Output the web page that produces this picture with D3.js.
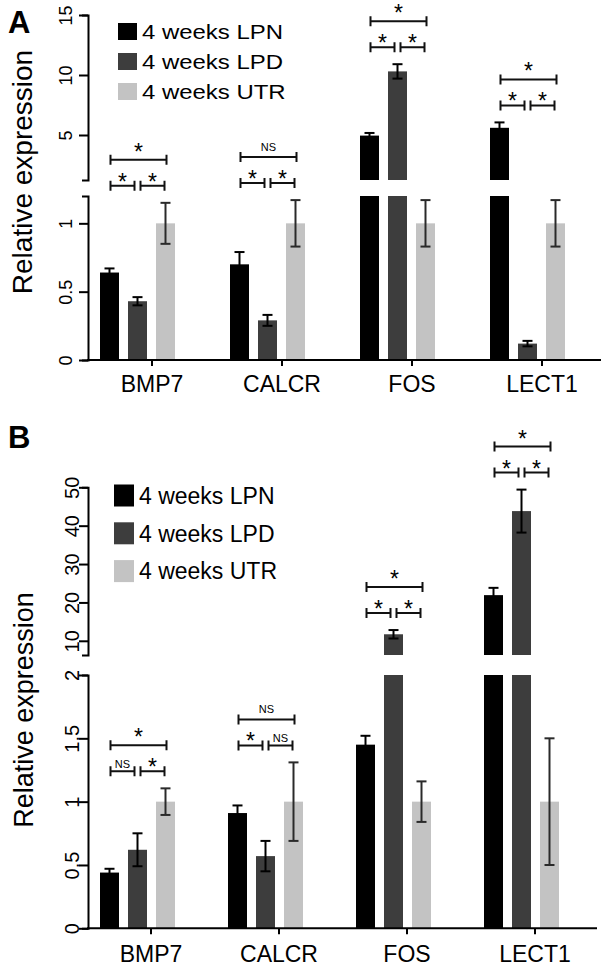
<!DOCTYPE html>
<html>
<head>
<meta charset="utf-8">
<script src="https://cdn.jsdelivr.net/npm/d3@7"></script>
<style>
  body { margin: 0; background: #fff; }
  svg  { display: block; font-family: Arial, "Liberation Sans", Helvetica, sans-serif; }
</style>
</head>
<body>
<svg id="chart" width="602" height="969"></svg>
<script>
// ── Data ────────────────────────────────────────────────────────────
const GENES  = ["BMP7", "CALCR", "FOS", "LECT1"];
const SERIES = ["4 weeks LPN", "4 weeks LPD", "4 weeks UTR"];

// Panel A
const A_LPN     = [0.64, 0.70, 4.95, 5.60];
const A_LPD     = [0.43, 0.29, 10.3, 0.12];
const A_UTR     = [1, 1, 1, 1];
const A_LPN_ERR = [0.03, 0.09, 0.22, 0.45];
const A_LPD_ERR = [0.03, 0.04, 0.60, 0.02];
const A_UTR_ERR = [0.15, 0.17, 0.17, 0.17];
// significance: [LPN vs LPD, LPD vs UTR, LPN vs UTR]
const A_SIG = [["*", "*", "*"], ["*", "*", "NS"], ["*", "*", "*"], ["*", "*", "*"]];
const A_LOW_TICKS = [0, 0.5, 1];
const A_UP_TICKS  = [5, 10, 15];

// Panel B
const B_LPN     = [0.44, 0.91, 1.45, 21.9];
const B_LPD     = [0.62, 0.57, 11.7, 43.8];
const B_UTR     = [1, 1, 1, 1];
const B_LPN_ERR = [0.03, 0.06, 0.07, 1.9];
const B_LPD_ERR = [0.13, 0.12, 1.1, 5.6];
const B_UTR_ERR = [0.105, 0.31, 0.16, 0.5];
const B_SIG = [["NS", "*", "*"], ["*", "NS", "NS"], ["*", "*", "*"], ["*", "*", "*"]];
const B_LOW_TICKS = [0, 0.5, 1, 1.5, 2];
const B_UP_TICKS  = [10, 20, 30, 40, 50];

// ── Styles ──────────────────────────────────────────────────────────
const BAR_COLORS = ["#000000", "#3d3d3d", "#c3c3c3"];
const ERR_COLORS = ["#000000", "#000000", "#2a2a2a"];

const LAYOUT_A = {
  x0: 100, step: 130, axisX: 88, axisEnd: 601,
  base: 360, lowTop: 196, lowMax: 1.2,
  upBottom: 180, upTop: 15, upDomain: [1.25, 15],
  lowTicks: A_LOW_TICKS, upTicks: A_UP_TICKS,
  tickFont: 18, tickLabelX: -16,
  xLabelY: 392, xLabelFont: 23,
  titleX: 32, titleY: 172, titleFont: 28,
  letter: "A", letterX: 8, letterY: 33,
  legX: 118, legY: 23, legW: 19, legH: 17, legStep: 30, legFont: 21, legScaleX: 1.14
};

const LAYOUT_B = {
  x0: 100, step: 128, axisX: 88, axisEnd: 597,
  base: 928.3, lowTop: 675, lowMax: 2,
  upBottom: 655, upTop: 487.3, upDomain: [6.3, 50],
  lowTicks: B_LOW_TICKS, upTicks: B_UP_TICKS,
  tickFont: 20, tickLabelX: -9,
  xLabelY: 962, xLabelFont: 23,
  titleX: 33, titleY: 710, titleFont: 27,
  letter: "B", letterX: 8, letterY: 448,
  legX: 114, legY: 484.5, legW: 20, legH: 22, legStep: 37.8, legFont: 23, legScaleX: 1
};

const svg = d3.select("#chart");

function styleYAxis(sel, L) {
  sel.attr("font-family", null).attr("font-size", null);
  sel.select(".domain").attr("stroke", "#000").attr("stroke-width", 2);
  sel.selectAll(".tick line").attr("stroke", "#000").attr("stroke-width", 2);
  sel.selectAll(".tick text")
    .attr("x", null).attr("dy", null)
    .attr("fill", "#000")
    .attr("font-size", L.tickFont)
    .attr("text-anchor", "middle")
    .attr("transform", `translate(${L.tickLabelX},0) rotate(-90)`);
}

function drawPanel(L, means, errs, sig) {
  const g = svg.append("g");

  const x  = d3.scaleBand().domain(GENES).range([L.x0, L.x0 + L.step * GENES.length]);
  const xs = d3.scaleBand().domain(d3.range(SERIES.length)).range([0, 75]).paddingInner(9 / 28);
  const yLow = d3.scaleLinear().domain([0, L.lowMax]).range([L.base, L.lowTop]);
  const yUp  = d3.scaleLinear().domain(L.upDomain).range([L.upBottom, L.upTop]);
  const yOf  = (v, up) => up ? yUp(v) : yLow(v);

  // flatten
  const rows = [];
  GENES.forEach((gene, gi) => {
    SERIES.forEach((s, si) => {
      const v = means[si][gi], e = errs[si][gi];
      rows.push({ gene, gi, si, v, e, up: v > L.lowMax,
        cx: x(gene) + xs(si) + xs.bandwidth() / 2 });
    });
  });

  // ── Bars ─────────────────────────────────────────────────────
  const bars = g.append("g");
  rows.forEach(d => {
    const bx = x(d.gene) + xs(d.si);
    if (!d.up) {
      bars.append("rect")
        .attr("x", bx).attr("width", xs.bandwidth())
        .attr("y", yLow(d.v)).attr("height", L.base - yLow(d.v))
        .attr("fill", BAR_COLORS[d.si]);
    } else {
      bars.append("rect")
        .attr("x", bx).attr("width", xs.bandwidth())
        .attr("y", L.lowTop).attr("height", L.base - L.lowTop)
        .attr("fill", BAR_COLORS[d.si]);
      bars.append("rect")
        .attr("x", bx).attr("width", xs.bandwidth())
        .attr("y", yUp(d.v)).attr("height", L.upBottom - yUp(d.v))
        .attr("fill", BAR_COLORS[d.si]);
    }
  });

  // ── Error bars ───────────────────────────────────────────────
  const eb = g.append("g").attr("stroke-width", 2).attr("fill", "none");
  rows.forEach(d => {
    const t = yOf(d.v + d.e, d.up), b = yOf(d.v - d.e, d.up);
    d.errTop = t;
    const c = ERR_COLORS[d.si];
    eb.append("line").attr("x1", d.cx).attr("x2", d.cx).attr("y1", t).attr("y2", b).attr("stroke", c);
    eb.append("line").attr("x1", d.cx - 5).attr("x2", d.cx + 5).attr("y1", t).attr("y2", t).attr("stroke", c);
    eb.append("line").attr("x1", d.cx - 5).attr("x2", d.cx + 5).attr("y1", b).attr("y2", b).attr("stroke", c);
  });

  // ── Significance brackets ────────────────────────────────────
  const br = g.append("g");
  function bracket(x1, x2, y, label, small) {
    br.append("path")
      .attr("d", `M${x1},${y - 5}V${y + 5}M${x1},${y}H${x2}M${x2},${y - 5}V${y + 5}`)
      .attr("stroke", "#111").attr("stroke-width", 2).attr("fill", "none");
    const isNS = label === "NS";
    br.append("text")
      .attr("x", (x1 + x2) / 2)
      .attr("y", isNS ? (small ? y - 3 : y - 6) : (small ? y + 4 : y))
      .attr("text-anchor", "middle")
      .attr("font-size", isNS ? 11 : 23)
      .attr("fill", "#000")
      .text(label);
  }
  GENES.forEach((gene, gi) => {
    const grp = rows.filter(r => r.gi === gi);
    const top = d3.min(grp, r => Math.min(r.errTop, yOf(r.v, r.up)));
    const c = grp.map(r => r.cx);
    const ySmall = top - 17, yBig = ySmall - 26;
    bracket(c[0] + 1, c[1] - 3, ySmall, sig[gi][0], true);
    bracket(c[1] + 3, c[2] - 1, ySmall, sig[gi][1], true);
    bracket(c[0] + 1, c[2] + 1, yBig, sig[gi][2], false);
  });

  // ── Y axes (broken) ──────────────────────────────────────────
  g.append("g").attr("transform", `translate(${L.axisX},0)`)
    .call(d3.axisLeft(yLow).tickValues(L.lowTicks).tickSize(9).tickSizeOuter(6).tickFormat(d => d))
    .call(s => styleYAxis(s, L));
  g.append("g").attr("transform", `translate(${L.axisX},0)`)
    .call(d3.axisLeft(yUp).tickValues(L.upTicks).tickSize(9).tickSizeOuter(6).tickFormat(d => d))
    .call(s => styleYAxis(s, L));

  // ── X axis ───────────────────────────────────────────────────
  g.append("line")
    .attr("x1", L.axisX - 1).attr("x2", L.axisEnd)
    .attr("y1", L.base).attr("y2", L.base)
    .attr("stroke", "#000").attr("stroke-width", 2);
  const xa = g.append("g").attr("transform", `translate(-13,${L.base})`)
    .call(d3.axisBottom(x).tickSize(6).tickSizeOuter(0));
  xa.attr("font-family", null).attr("font-size", null);
  xa.select(".domain").remove();
  xa.selectAll(".tick line").attr("stroke-width", 2);
  xa.selectAll(".tick text")
    .attr("y", L.xLabelY - L.base).attr("dy", null)
    .attr("font-size", L.xLabelFont).attr("fill", "#000");

  // ── Y title ──────────────────────────────────────────────────
  g.append("text")
    .attr("transform", `translate(${L.titleX},${L.titleY}) rotate(-90)`)
    .attr("text-anchor", "middle")
    .attr("font-size", L.titleFont)
    .attr("fill", "#000")
    .text("Relative expression");

  // ── Panel letter ─────────────────────────────────────────────
  g.append("text")
    .attr("x", L.letterX).attr("y", L.letterY)
    .attr("font-size", 31).attr("font-weight", "bold")
    .attr("fill", "#000")
    .text(L.letter);

  // ── Legend ───────────────────────────────────────────────────
  const leg = g.append("g");
  SERIES.forEach((s, si) => {
    const y = L.legY + si * L.legStep;
    leg.append("rect")
      .attr("x", L.legX).attr("y", y)
      .attr("width", L.legW).attr("height", L.legH)
      .attr("fill", BAR_COLORS[si]);
    leg.append("text")
      .attr("transform", `translate(${L.legX + L.legW + 5},${y + L.legH / 2 + L.legFont * 0.36}) scale(${L.legScaleX},1)`)
      .attr("font-size", L.legFont)
      .attr("fill", "#000")
      .text(s);
  });
}

drawPanel(LAYOUT_A, [A_LPN, A_LPD, A_UTR], [A_LPN_ERR, A_LPD_ERR, A_UTR_ERR], A_SIG);
drawPanel(LAYOUT_B, [B_LPN, B_LPD, B_UTR], [B_LPN_ERR, B_LPD_ERR, B_UTR_ERR], B_SIG);
</script>
</body>
</html>
